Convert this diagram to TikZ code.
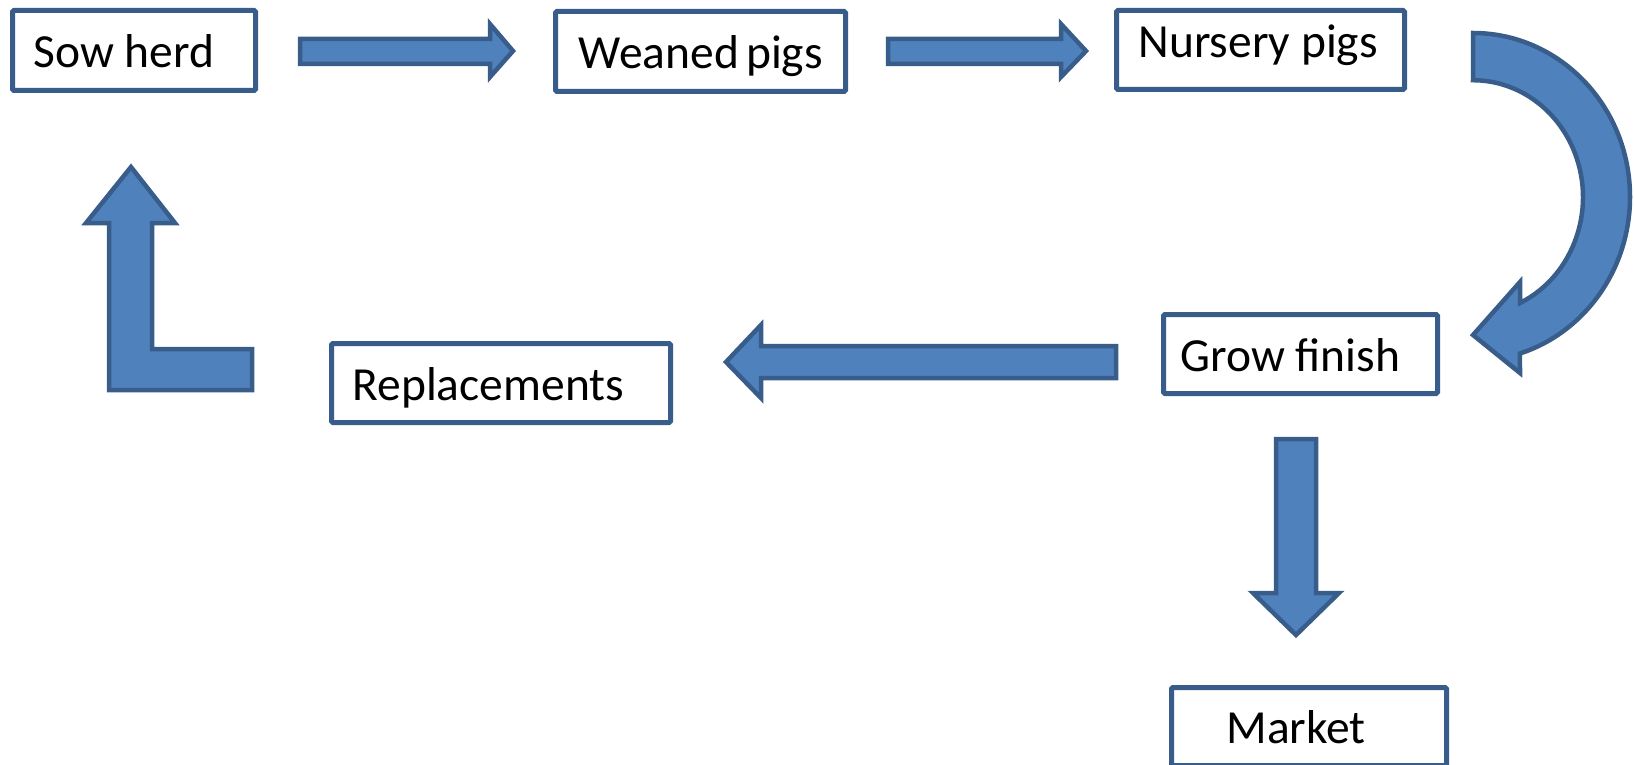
\documentclass[tikz,border=0pt]{standalone}
\usepackage{fontspec}
\setmainfont{Carlito}
\usetikzlibrary{arrows.meta}
\definecolor{PigBlue}{HTML}{4F81BD}
\definecolor{PigLine}{HTML}{385D8A}

\begin{document}
\begin{tikzpicture}[x=1pt, y=1pt,
    stage/.style={draw=PigLine, line width=5pt, rounded corners=1.5pt, fill=white,
        anchor=north west, inner ysep=0pt,
        font=\fontsize{47.5pt}{57pt}\selectfont, text height=38pt, text depth=4pt,
        execute at begin node={\hbox to #1\bgroup}, execute at end node={\hfil\egroup}},
    blockarrow/.style={draw=PigLine, fill=PigBlue, line width=4.5pt, line join=miter}]
    \useasboundingbox (0,0) rectangle (1634,-765);

    % Stages
    \node[stage=201pt, minimum width=243pt, minimum height=80pt, inner xsep=21pt]
        (sow) at (10,-8) {Sow herd};
    \node[stage=244pt, minimum width=290pt, minimum height=80pt, inner xsep=23pt]
        (weaned) at (553,-9) {Weaned pigs};
    \node[stage=244pt, minimum width=288pt, minimum height=79pt, inner xsep=22pt,
        text depth=22pt] (nursery) at (1114,-8) {Nursery pigs};
    \node[stage=240pt, minimum width=274pt, minimum height=79pt, inner xsep=17pt]
        (grow) at (1161,-312) {Grow finish};
    \node[stage=297pt, minimum width=339pt, minimum height=79pt, inner xsep=21pt]
        (repl) at (329,-341) {Replacements};
    \node[stage=165pt, minimum width=275pt, minimum height=78pt, inner xsep=55pt]
        (market) at (1169,-685) {Market};

    % Sow herd -> Weaned pigs -> Nursery pigs
    \draw[blockarrow] (300,-39) -- (490,-39) -- (490,-24) -- (513,-51) -- (490,-77)
        -- (490,-64) -- (300,-64) -- cycle;
    \draw[blockarrow] (888,-39) -- (1061,-39) -- (1061,-24) -- (1086,-51) -- (1061,-77)
        -- (1061,-64) -- (888,-64) -- cycle;

    % Nursery pigs -> Grow finish (curved)
    \draw[blockarrow] (1473,-80) -- (1473,-33)
        arc[start angle=90, end angle=-72.6, x radius=157, y radius=164]
        -- (1520,-373) -- (1473,-335) -- (1520,-282) -- (1520,-303)
        arc[start angle=-64.7, end angle=90, x radius=110, y radius=117] -- cycle;

    % Grow finish -> Replacements
    \draw[blockarrow] (1116,-346) -- (761,-346) -- (761,-325) -- (726,-362) -- (761,-398)
        -- (761,-378) -- (1116,-378) -- cycle;

    % Replacements -> Sow herd
    \draw[blockarrow] (131,-167) -- (175,-223) -- (152,-223) -- (152,-349) -- (252,-349)
        -- (252,-390) -- (109,-390) -- (109,-223) -- (86,-223) -- cycle;

    % Grow finish -> Market
    \draw[blockarrow] (1276,-439) -- (1316,-439) -- (1316,-593) -- (1339,-593) -- (1296,-635)
        -- (1253,-593) -- (1276,-593) -- cycle;
\end{tikzpicture}
\end{document}
